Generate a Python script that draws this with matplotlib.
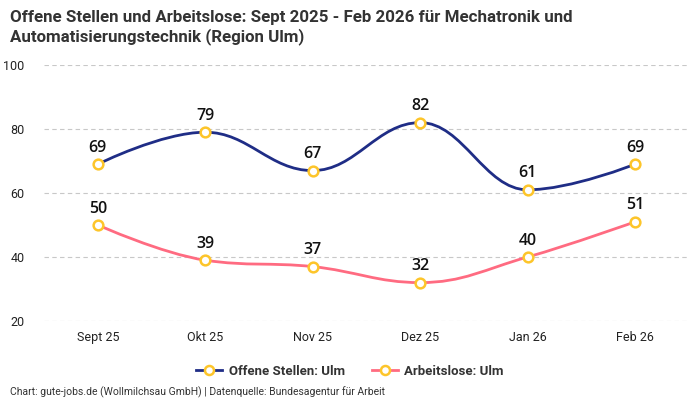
import matplotlib
matplotlib.use("Agg")
import matplotlib.pyplot as plt
from matplotlib.path import Path
from matplotlib.patches import PathPatch
from matplotlib.lines import Line2D
import numpy as np

# Daten
monate = ["Sept 25", "Okt 25", "Nov 25", "Dez 25", "Jan 26", "Feb 26"]
offene_stellen = [69, 79, 67, 82, 61, 69]
arbeitslose = [50, 39, 37, 32, 40, 51]

BLAU = "#1f2d86"
ROSA = "#ff6b81"
GOLD = "#fdc52a"
SCHMAL = ["Liberation Sans Narrow", "Roboto", "DejaVu Sans"]


def spline_path(xs, ys, smoothing=1.5):
    # Highcharts-artige Spline aus Bezier-Kurven
    n = len(xs)
    verts = [(xs[0], ys[0])]
    codes = [Path.MOVETO]
    conts = []
    for i in range(n):
        if i == 0 or i == n - 1:
            conts.append(((xs[i], ys[i]), (xs[i], ys[i])))
            continue
        d = smoothing + 1
        lx = (smoothing * xs[i] + xs[i - 1]) / d
        ly = (smoothing * ys[i] + ys[i - 1]) / d
        rx = (smoothing * xs[i] + xs[i + 1]) / d
        ry = (smoothing * ys[i] + ys[i + 1]) / d
        corr = (ry - ly) * (rx - xs[i]) / (rx - lx) + ys[i] - ry
        ly += corr
        ry += corr
        if ly > max(ys[i - 1], ys[i]):
            ly = max(ys[i - 1], ys[i])
            ry = 2 * ys[i] - ly
        elif ly < min(ys[i - 1], ys[i]):
            ly = min(ys[i - 1], ys[i])
            ry = 2 * ys[i] - ly
        if ry > max(ys[i + 1], ys[i]):
            ry = max(ys[i + 1], ys[i])
            ly = 2 * ys[i] - ry
        elif ry < min(ys[i + 1], ys[i]):
            ry = min(ys[i + 1], ys[i])
            ly = 2 * ys[i] - ry
        conts.append(((lx, ly), (rx, ry)))
    for i in range(1, n):
        verts += [conts[i - 1][1], conts[i][0], (xs[i], ys[i])]
        codes += [Path.CURVE4] * 3
    return Path(verts, codes)


fig = plt.figure(figsize=(7, 4), dpi=100)
ax = fig.add_axes([0.063, 0.1975, 0.921, 0.64])

x = np.arange(len(monate))
for werte, farbe in [(offene_stellen, BLAU), (arbeitslose, ROSA)]:
    ax.add_patch(PathPatch(spline_path(x, werte), fill=False, edgecolor=farbe, lw=2, zorder=3))
    ax.plot(x, werte, ls="none", marker="o", ms=7, mfc="white", mec=GOLD, mew=1.8, zorder=4)
    for xi, v in zip(x, werte):
        ax.annotate(str(v), (xi, v), xytext=(0, 6), textcoords="offset points",
                    ha="center", va="bottom", fontsize=11.5, color="#111111",
                    family="Open Sans", fontweight="semibold", zorder=5)

ax.set_xlim(-0.5, len(monate) - 0.5)
ax.set_ylim(20, 100)
ax.set_yticks([20, 40, 60, 80, 100])
ax.set_xticks(x)
ax.set_xticklabels(monate)
for s in ax.spines.values():
    s.set_visible(False)
ax.tick_params(length=0, labelsize=9, colors="#222222")
ax.tick_params(axis="x", pad=7)
ax.tick_params(axis="y", pad=14)
for lab in ax.get_xticklabels() + ax.get_yticklabels():
    lab.set_family(SCHMAL)
ax.grid(axis="y", color="#c8c8c8", ls=(0, (4, 3)), lw=0.8)
ax.set_axisbelow(True)

fig.text(0.014, 0.975, "Offene Stellen und Arbeitslose: Sept 2025 - Feb 2026 für Mechatronik und\nAutomatisierungstechnik (Region Ulm)",
         ha="left", va="top", fontsize=12.2, fontweight="bold", color="#333333", linespacing=1.2,
         family="Roboto")

handles = [
    Line2D([], [], color=BLAU, lw=2, marker="o", ms=6.5, mfc="white", mec=GOLD, mew=1.8),
    Line2D([], [], color=ROSA, lw=2, marker="o", ms=6.5, mfc="white", mec=GOLD, mew=1.8),
]
fig.legend(handles, ["Offene Stellen: Ulm", "Arbeitslose: Ulm"], loc="center",
           bbox_to_anchor=(0.5, 0.072), ncol=2, frameon=False,
           prop={"size": 9.5, "weight": "bold", "family": SCHMAL}, handlelength=2.0,
           columnspacing=2.0, handletextpad=0.5, labelcolor="#333333")

fig.text(0.014, 0.006, "Chart: gute-jobs.de (Wollmilchsau GmbH) | Datenquelle: Bundesagentur für Arbeit",
         ha="left", va="bottom", fontsize=7.5, color="#333333", family=SCHMAL)

fig.savefig("out.png", dpi=100)
